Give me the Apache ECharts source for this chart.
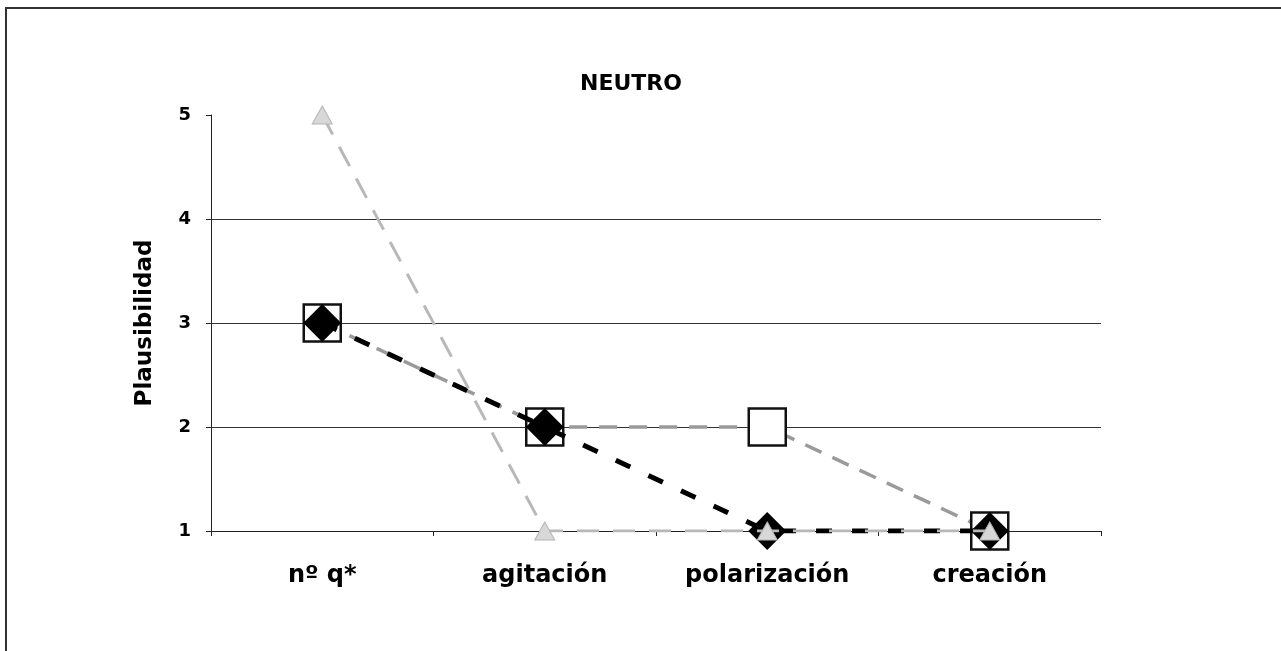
<!DOCTYPE html>
<html>
    <head>
        <meta charset="utf-8">
        <style>
            body { margin: 0; background: #fff; }
            #frame { position: absolute; left: 5px; top: 7px; width: 1300px; height: 700px; border: 2px solid #333; pointer-events: none; }
        </style>
    </head>
    <body>
        <div id="main" style="width:1281px;height:651px"></div>
        <div id="frame"></div>
        <script src="https://cdn.jsdelivr.net/npm/echarts@6/dist/echarts.min.js"></script>
        <script type="text/javascript">
            // datos
            var categorias = ['nº q*', 'agitación', 'polarización', 'creación']
            var serieCuadrado = [3, 2, 2, 1]
            var serieRombo = [3, 2, 1, 1]
            var serieTriangulo = [5, 1, 1, 1]
            var ticksY = [1, 2, 3, 4, 5]

            var fuente = 'DejaVu Sans'

            var option = {
                animation: false,
                title: {
                    text: 'NEUTRO',
                    left: 626,
                    textAlign: 'center',
                    top: 68,
                    textStyle: { fontFamily: fuente, fontSize: 22, fontWeight: 'bold', color: '#000' }
                },
                grid: { left: 211, right: 180, top: 115, bottom: 120 },
                xAxis: {
                    type: 'category',
                    data: categorias,
                    boundaryGap: true,
                    axisLine: { lineStyle: { color: '#222', width: 1 } },
                    axisTick: { show: true, length: 5, lineStyle: { color: '#222' } },
                    axisLabel: { margin: 33, fontFamily: fuente, fontSize: 24, fontWeight: 'bold', color: '#000' }
                },
                yAxis: {
                    type: 'value',
                    min: ticksY[0],
                    max: ticksY[ticksY.length - 1],
                    interval: 1,
                    name: 'Plausibilidad',
                    nameLocation: 'middle',
                    nameGap: 54,
                    nameTextStyle: { fontFamily: fuente, fontSize: 23, fontWeight: 'bold', color: '#000' },
                    axisLine: { show: true, lineStyle: { color: '#222', width: 1 } },
                    axisTick: { show: true, length: 5, lineStyle: { color: '#222' } },
                    axisLabel: { margin: 20, fontFamily: fuente, fontSize: 18, fontWeight: 'bold', color: '#000' },
                    splitLine: { lineStyle: { color: ['#333', '#333', '#333', '#333', 'transparent'], width: 1 } }
                },
                series: [
                    {
                        name: 'cuadrado',
                        type: 'line',
                        data: serieCuadrado,
                        z: 2,
                        symbol: 'rect',
                        symbolSize: 37,
                        itemStyle: { color: '#fff', borderColor: '#111', borderWidth: 2.5 },
                        lineStyle: { color: '#9a9a9a', width: 3.5, type: [18, 12] }
                    },
                    {
                        name: 'rombo',
                        type: 'line',
                        data: serieRombo,
                        z: 3,
                        symbol: 'path://M0,-1L1,0L0,1L-1,0Z',
                        symbolSize: 38,
                        itemStyle: { color: '#000', borderColor: '#000', borderWidth: 0 },
                        lineStyle: { color: '#000', width: 5, type: [16, 20] }
                    },
                    {
                        name: 'triangulo',
                        type: 'line',
                        data: serieTriangulo,
                        z: 4,
                        symbol: 'triangle',
                        symbolSize: [20, 18],
                        itemStyle: { color: '#d8d8d8', borderColor: '#b5b5b5', borderWidth: 1 },
                        lineStyle: { color: '#b8b8b8', width: 3, type: [22, 14] }
                    }
                ]
            }

            var mychart = echarts.init(document.getElementById('main'))
            mychart.setOption(option)
        </script>
    </body>
</html>
